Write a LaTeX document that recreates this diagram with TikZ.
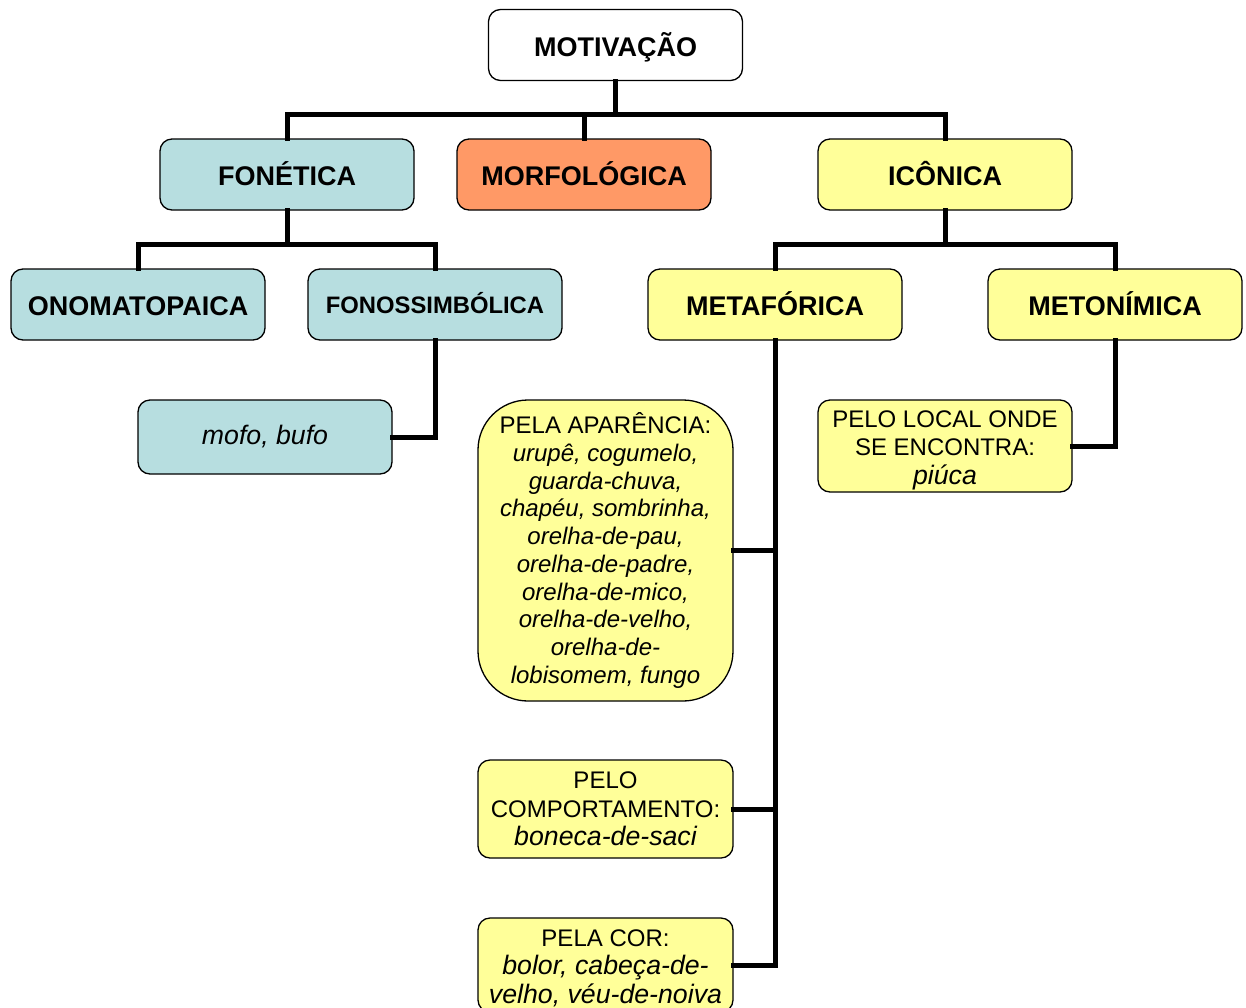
\documentclass[tikz,border=0pt]{standalone}
\usepackage{fontspec}
\setmainfont{Liberation Sans}
\definecolor{cblue}{RGB}{183,222,224}
\definecolor{corange}{RGB}{255,153,102}
\definecolor{cyellow}{RGB}{255,255,153}
\newcommand{\bigit}{\fontsize{26.7}{28.5}\selectfont\itshape}
\begin{document}
\begin{tikzpicture}[x=1pt,y=-1pt,
  box/.style={draw=black,line width=1.3pt,rounded corners=12pt,align=center,
    minimum width=254pt,inner sep=2pt,font=\fontsize{24}{28.5}\selectfont},
  title/.style={box,minimum height=71pt,text height=22.5pt,text depth=0pt,font=\fontsize{27}{30}\selectfont\bfseries},
  conn/.style={line width=5pt,line join=miter,line cap=rect}]
\useasboundingbox (0,0) rectangle (1246,1007);
% top level
\node[title,fill=white] (mot) at (615.5,45) {MOTIVAÇÃO};
\node[title,fill=cblue] (fon) at (287,174.5) {FONÉTICA};
\node[title,fill=corange] (mor) at (584,174.5) {MORFOLÓGICA};
\node[title,fill=cyellow] (ico) at (945,174.5) {ICÔNICA};
\node[title,fill=cblue] (ono) at (138,304.5) {ONOMATOPAICA};
\node[title,fill=cblue,text height=17pt,font=\fontsize{23.8}{28}\selectfont\bfseries] (fonos) at (435,304.5) {FONOSSIMBÓLICA};
\node[title,fill=cyellow] (meta) at (775,304.5) {METAFÓRICA};
\node[title,fill=cyellow] (meto) at (1115,304.5) {METONÍMICA};
% leaves
\node[box,fill=cblue,minimum height=74pt] (mofo) at (265,437) {\bigit mofo, bufo};
\node[box,fill=cyellow,minimum width=255pt,minimum height=301pt,rounded corners=50pt,
  font=\fontsize{24}{27.7}\selectfont] (apar) at (605.5,550.5)
  {PELA APARÊNCIA:\\ \itshape urupê, cogumelo,\\ \itshape guarda-chuva,\\ \itshape chapéu, sombrinha,\\ \itshape orelha-de-pau,\\ \itshape orelha-de-padre,\\ \itshape orelha-de-mico,\\ \itshape orelha-de-velho,\\ \itshape orelha-de-\\ \itshape lobisomem, fungo};
\node[box,fill=cyellow,minimum height=92pt] (loc) at (945,446)
  {};
\node[align=center,font=\fontsize{24}{28.5}\selectfont,inner sep=0pt] (loctext) at (945,450)
  {PELO LOCAL ONDE\\ SE ENCONTRA:\\ \bigit piúca};
\node[box,fill=cyellow,minimum width=255pt,minimum height=98pt] (comp) at (605.5,809)
  {PELO\\ COMPORTAMENTO:\\ \bigit boneca-de-saci};
\node[box,fill=cyellow,minimum width=255pt,minimum height=94pt] (cor) at (605.5,965)
  {};
\node[align=center,font=\fontsize{24}{28.5}\selectfont,inner sep=0pt] (cortext) at (605.5,968)
  {PELA COR:\\ \bigit bolor, cabeça-de-\\ \bigit velho, véu-de-noiva};
% connectors
\coordinate (j1) at (615.5,114);
\coordinate (j2) at (287,244);
\coordinate (j3) at (945,244);
\draw[conn] (mot.south) -- (j1);
\draw[conn] (fon.north) |- (j1) -| (ico.north);
\draw[conn] (mor.north) -- (mor.north |- j1);
\draw[conn] (fon.south) -- (j2);
\draw[conn] (ono.north) |- (j2) -| (fonos.north);
\draw[conn] (ico.south) -- (j3);
\draw[conn] (meta.north) |- (j3) -| (meto.north);
\draw[conn] (fonos.south) |- (mofo.east);
\draw[conn] (meta.south) |- (cor.east);
\draw[conn] (apar.east) -- (apar.east -| meta.south);
\draw[conn] (comp.east) -- (comp.east -| meta.south);
\draw[conn] (meto.south) |- (loc.east);
\end{tikzpicture}
\end{document}
